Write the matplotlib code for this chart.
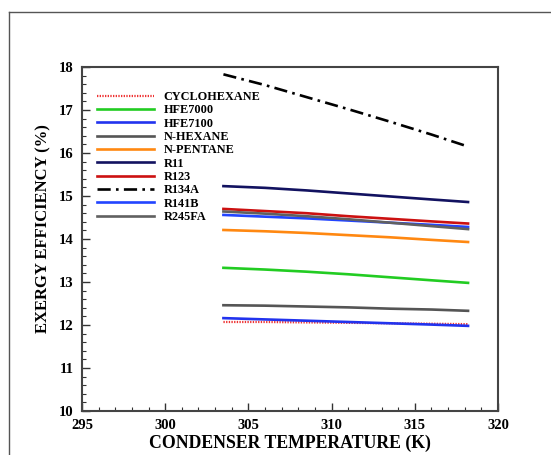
import numpy as np
import matplotlib.pyplot as plt
from matplotlib.lines import Line2D

plt.rcParams['font.family'] = ['Liberation Serif', 'DejaVu Serif']
plt.rcParams['font.weight'] = 'bold'

# condenser temperature (K)
temp = [303.5, 306.0, 308.5, 311.0, 313.5, 316.0, 318.2]

# exergy efficiency (%)
cyclohexane = [12.07, 12.07, 12.06, 12.05, 12.04, 12.03, 12.02]
hfe7000 = [13.33, 13.29, 13.24, 13.18, 13.11, 13.04, 12.98]
hfe7100 = [12.16, 12.13, 12.10, 12.07, 12.04, 12.01, 11.98]
n_hexane = [12.46, 12.45, 12.43, 12.41, 12.38, 12.36, 12.33]
n_pentane = [14.21, 14.18, 14.14, 14.09, 14.04, 13.98, 13.93]
r11 = [15.23, 15.19, 15.13, 15.06, 14.99, 14.92, 14.86]
r123 = [14.70, 14.65, 14.60, 14.53, 14.47, 14.41, 14.36]
r134a = [17.83, 17.58, 17.30, 17.02, 16.73, 16.43, 16.15]
r141b = [14.56, 14.52, 14.48, 14.43, 14.38, 14.33, 14.28]
r245fa = [14.64, 14.59, 14.53, 14.46, 14.38, 14.30, 14.23]

fig = plt.figure(figsize=(5.51, 4.55), dpi=100)
ax = fig.add_axes([0.1488, 0.0967, 0.755, 0.756])

# outer frame of the figure (top and left only)
fig.add_artist(Line2D([9 / 551, 1.0], [1 - 12 / 455, 1 - 12 / 455], color='#555555', lw=1.0))
fig.add_artist(Line2D([9 / 551, 9 / 551], [1 - 12 / 455, 0.0], color='#555555', lw=1.0))

lw = 1.9
ax.plot(temp, cyclohexane, color='#ee3333', lw=1.6, ls=(0, (0.6, 0.6)), label='CYCLOHEXANE')
ax.plot(temp, hfe7000, color='#22cc22', lw=lw, label='HFE7000')
ax.plot(temp, hfe7100, color='#2233ee', lw=lw, label='HFE7100')
ax.plot(temp, n_hexane, color='#555555', lw=lw, label='N-HEXANE')
ax.plot(temp, n_pentane, color='#ff8811', lw=lw, label='N-PENTANE')
ax.plot(temp, r11, color='#121260', lw=lw, label='R11')
ax.plot(temp, r123, color='#cc1111', lw=lw, label='R123')
ax.plot(temp, r134a, color='black', lw=lw, ls=(0, (5, 2, 1, 2)), label='R134A')
ax.plot(temp, r141b, color='#2244ff', lw=lw, label='R141B')
ax.plot(temp, r245fa, color='#606060', lw=lw, label='R245FA')

ax.set_xlim(295, 320)
ax.set_ylim(10, 18)
ax.set_xticks(np.arange(295, 321, 5))
ax.set_xticks(np.arange(295, 321, 1), minor=True)
ax.set_yticks(np.arange(10, 19, 1))
ax.set_yticks(np.arange(10, 18.01, 0.2), minor=True)
ax.tick_params(which='both', direction='in', top=False, right=False, colors='#333333',
               labelcolor='black', labelsize=10.5, pad=6)
ax.tick_params(which='major', length=6, width=1.0)
ax.tick_params(which='minor', length=3, width=0.8)
for s in ax.spines.values():
    s.set_color('#444444')
    s.set_linewidth(1.5)

ax.set_xlabel('CONDENSER TEMPERATURE (K)', fontsize=12.8, fontweight='bold', labelpad=2)
ax.set_ylabel('EXERGY EFFICIENCY (%)', fontsize=12, fontweight='bold')
ax.yaxis.set_label_coords(-0.073, 0.529)

ax.legend(loc='upper left', frameon=False, fontsize=8.8, handlelength=4.6,
          handletextpad=0.82, labelspacing=0.11, borderaxespad=0.0,
          bbox_to_anchor=(0.025, 0.945))

fig.savefig('out.png', dpi=100)
